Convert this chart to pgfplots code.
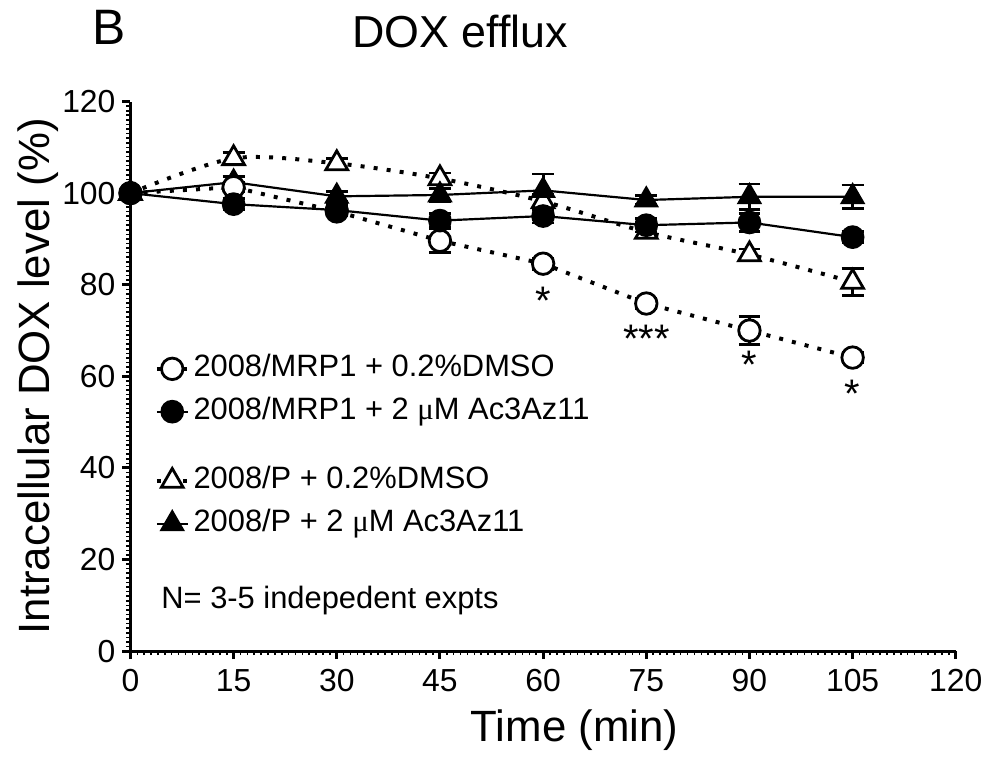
\documentclass[border=0pt]{standalone}
\usepackage{fontspec}
\setmainfont{Liberation Sans}
\newfontfamily\greekfont{Liberation Serif}
\usepackage{pgfplots}
\usepackage{pgfplotstable}
\pgfplotsset{compat=1.18}

% Intracellular DOX level (% of t=0), mean and SEM
\pgfplotstableread{
t    y      e
0    100    0
15   101.3  1.0
30   96.0   1.0
45   89.6   2.6
60   84.6   1.2
75   75.9   1.2
90   70.0   3.0
105  64.1   1.2
}\mrpdmso
\pgfplotstableread{
t    y      e
0    100    0
15   97.6   1.2
30   96.3   1.2
45   94.0   1.5
60   95.0   1.5
75   93.0   1.5
90   93.6   2.0
105  90.4   1.2
}\mrpac
\pgfplotstableread{
t    y      e
0    100    0
15   107.6  1.2
30   106.5  1.0
45   103.2  1.2
60   98.2   1.5
75   91.5   1.3
90   86.6   1.2
105  80.6   3.0
}\pdmso
\pgfplotstableread{
t    y      e
0    100    0
15   102.4  1.2
30   99.3   1.0
45   99.6   1.5
60   100.6  3.6
75   98.5   1.0
90   99.2   2.8
105  99.2   2.6
}\pac

\tikzset{
  dotline/.style={line width=2pt, dash pattern=on 2pt off 4.6pt},
  solidline/.style={line width=1.1pt, solid},
  star/.style={font=\fontsize{20}{24}\selectfont, anchor=base},
}
\pgfplotsset{
  errstyle/.style={
    error bars/y dir=both, error bars/y explicit,
    error bars/error bar style={line width=1.4pt, solid},
    error bars/error mark options={line width=1.4pt, mark size=5.5pt, rotate=90, solid},
  },
  shortlegend/.style={
    legend image code/.code={
      \draw[mark repeat=2, mark phase=2, ##1]
        plot coordinates {(0cm,0cm) (0.27cm,0cm) (0.54cm,0cm)};}
  },
}

\begin{document}
\begin{tikzpicture}
\begin{axis}[
  scale only axis, width=414.5pt, height=276pt,
  xmin=0, xmax=120, ymin=0, ymax=120,
  clip=false,
  axis x line*=bottom, axis y line*=left,
  axis line style={line width=1.5pt, -},
  xtick={0,15,...,120}, ytick={0,20,...,120},
  minor x tick num=14, minor y tick num=19,
  tick align=outside,
  major tick length=4pt, minor tick length=2pt,
  every major tick/.append style={line width=1.5pt, black},
  every minor tick/.append style={line width=0.8pt, black},
  ticklabel style={font=\fontsize{16}{19}\selectfont},
  xticklabel style={yshift=-1.5pt},
  /pgf/number format/assume math mode=true,
  ylabel={Intracellular DOX level (\%)},
  ylabel style={font=\fontsize{22}{26}\selectfont, at={(rel axis cs:0,0.5)},
    anchor=center, rotate=0, yshift=46.5pt},
  xlabel={Time (min)},
  xlabel style={font=\fontsize{22}{26}\selectfont, at={(rel axis cs:0.538,0)},
    anchor=center, yshift=-39.5pt},
  shortlegend,
  legend cell align=left,
  legend style={draw=none, fill=none, at={(rel axis cs:0.022,0.556)},
    anchor=north west, font=\fontsize{15.5}{18}\selectfont, row sep=2.5pt,
    nodes={text height=11.5pt, text depth=3.5pt, inner sep=2pt}},
]
% parental cells, DMSO (open triangles, smoothed dotted line)
\addplot[black, dotline, smooth, mark=triangle*,
  mark options={solid, fill=white, draw=black, line width=1.4pt, mark size=6.3pt},
  forget plot, errstyle] table[x=t, y=y, y error=e] {\pdmso};
% parental cells, Ac3Az11 (filled triangles)
\addplot[black, solidline, mark=triangle*,
  mark options={solid, fill=black, draw=black, mark size=6.3pt},
  forget plot, errstyle] table[x=t, y=y, y error=e] {\pac};
% MRP1 cells, DMSO (open circles)
\addplot[black, dotline, mark=*,
  mark options={solid, fill=white, draw=black, line width=1.4pt, mark size=5.4pt},
  errstyle] table[x=t, y=y, y error=e] {\mrpdmso};
\addlegendentry{2008/MRP1 + 0.2\%DMSO}
% MRP1 cells, Ac3Az11 (filled circles)
\addplot[black, solidline, mark=*,
  mark options={solid, fill=black, draw=black, mark size=5.4pt},
  errstyle] table[x=t, y=y, y error=e] {\mrpac};
\addlegendentry{2008/MRP1 + 2 {\greekfont μ}M Ac3Az11}

% significance marks under the MRP1 + DMSO series
\node[star] at (axis cs:60,73.6) {*};
\node[star] at (axis cs:75,65.3) {***};
\node[star] at (axis cs:90,59.5) {*};
\node[star] at (axis cs:105,53.2) {*};

\node[font=\fontsize{15.5}{18}\selectfont, anchor=west] at (rel axis cs:0.029,0.092)
  {N= 3-5 indepedent expts};
\end{axis}

% second legend block for the parental line
\begin{axis}[
  scale only axis, width=414.5pt, height=276pt,
  xmin=0, xmax=120, ymin=0, ymax=120,
  hide axis,
  shortlegend,
  legend cell align=left,
  legend style={draw=none, fill=none, at={(rel axis cs:0.022,0.352)},
    anchor=north west, font=\fontsize{15.5}{18}\selectfont, row sep=2.5pt,
    nodes={text height=11.5pt, text depth=3.5pt, inner sep=2pt}},
]
\addlegendimage{black, dotline, mark=triangle*,
  mark options={solid, fill=white, draw=black, line width=1.4pt, mark size=6.3pt}}
\addlegendentry{2008/P + 0.2\%DMSO}
\addlegendimage{black, solidline, mark=triangle*,
  mark options={solid, fill=black, draw=black, mark size=6.3pt}}
\addlegendentry{2008/P + 2 {\greekfont μ}M Ac3Az11}
\end{axis}

\node[font=\fontsize{25}{30}\selectfont] at ([shift={(-10.5pt,313pt)}]current axis.south west) {B};
\node[font=\fontsize{22.5}{27}\selectfont] at ([shift={(165.5pt,311pt)}]current axis.south west) {DOX efflux};
\path ([shift={(-65.5pt,-50pt)}]current axis.south west) rectangle ([shift={(429pt,327pt)}]current axis.south west);
\end{tikzpicture}
\end{document}
